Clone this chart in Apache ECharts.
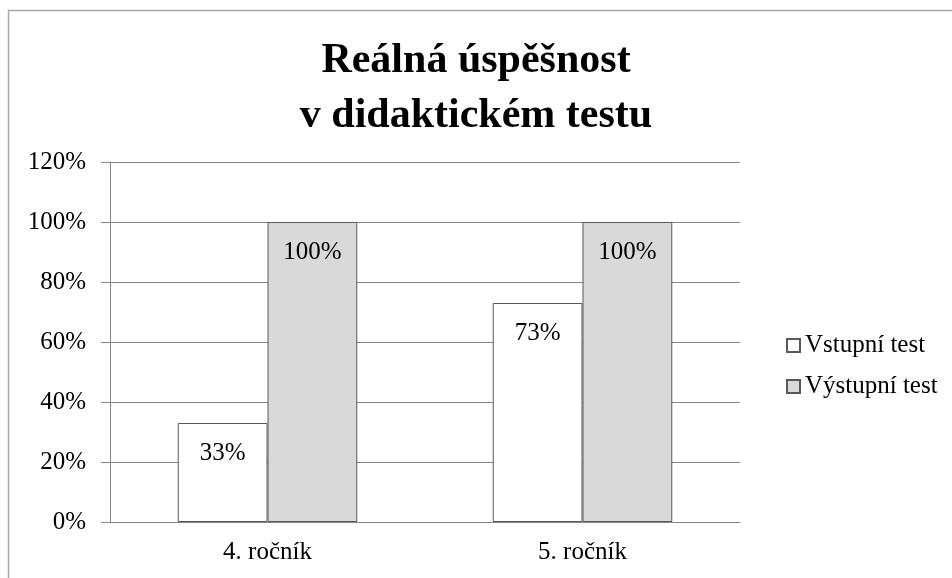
<!DOCTYPE html>
<html>
<head>
<meta charset="utf-8">
<script src="https://cdn.jsdelivr.net/npm/echarts@6/dist/echarts.min.js"></script>
<style>
  body { margin: 0; background: #fff; }
  #chart { width: 952px; height: 578px; }
</style>
</head>
<body>
<div id="chart"></div>
<script>
var categories = ['4. ročník', '5. ročník'];
var vstupni = [33, 73];
var vystupni = [100, 100];
var yTicks = [0, 20, 40, 60, 80, 100, 120];

var serif = 'Liberation Serif, Times New Roman, serif';
var myChart = echarts.init(document.getElementById('chart'));

var option = {
    backgroundColor: '#FFFFFF',
    animation: false,
    textStyle: { fontFamily: serif, color: '#000' },
    title: {
        text: 'Reálná úspěšnost\nv didaktickém testu',
        left: 'center',
        top: 29,
        textStyle: {
            fontFamily: serif,
            fontWeight: 'bold',
            fontSize: 42,
            lineHeight: 55,
            color: '#000'
        }
    },
    // ramecek kolem celeho grafu
    graphic: [{
        type: 'rect',
        shape: { x: 8.5, y: 10.5, width: 1000, height: 1000 },
        style: { fill: 'none', stroke: '#a6a6a6', lineWidth: 1.5 }
    }],
    legend: {
        orient: 'vertical',
        left: 781,
        top: 328,
        itemWidth: 13,
        itemHeight: 13,
        itemGap: 16,
        icon: 'rect',
        textStyle: { fontFamily: serif, fontSize: 25, color: '#000' },
        data: ['Vstupní test', 'Výstupní test']
    },
    grid: { left: 110, right: 212, top: 162, bottom: 56 },
    xAxis: {
        type: 'category',
        data: categories,
        axisLine: { lineStyle: { color: '#868686' } },
        axisTick: { length: 6, lineStyle: { color: '#868686' } },
        axisLabel: { fontFamily: serif, fontSize: 25, color: '#000', margin: 18 }
    },
    yAxis: {
        type: 'value',
        min: yTicks[0],
        max: yTicks[yTicks.length - 1],
        interval: 20,
        axisLine: { show: true, lineStyle: { color: '#868686' } },
        axisTick: { show: true, length: 9, lineStyle: { color: '#868686' } },
        splitLine: { lineStyle: { color: '#868686' } },
        axisLabel: {
            fontFamily: serif, fontSize: 25, color: '#000', margin: 24,
            formatter: '{value}%'
        }
    },
    series: [{
        name: 'Vstupní test',
        type: 'bar',
        data: vstupni,
        barGap: '0%',
        barCategoryGap: '43%',
        itemStyle: { color: '#ffffff', borderColor: '#595959', borderWidth: 1 },
        label: {
            show: true, position: 'insideTop', distance: 18,
            formatter: '{c}%', fontFamily: serif, fontSize: 25, color: '#000'
        }
    }, {
        name: 'Výstupní test',
        type: 'bar',
        data: vystupni,
        itemStyle: { color: '#d9d9d9', borderColor: '#595959', borderWidth: 1 },
        label: {
            show: true, position: 'insideTop', distance: 18,
            formatter: '{c}%', fontFamily: serif, fontSize: 25, color: '#000'
        }
    }]
};
myChart.setOption(option);
</script>
</body>
</html>
